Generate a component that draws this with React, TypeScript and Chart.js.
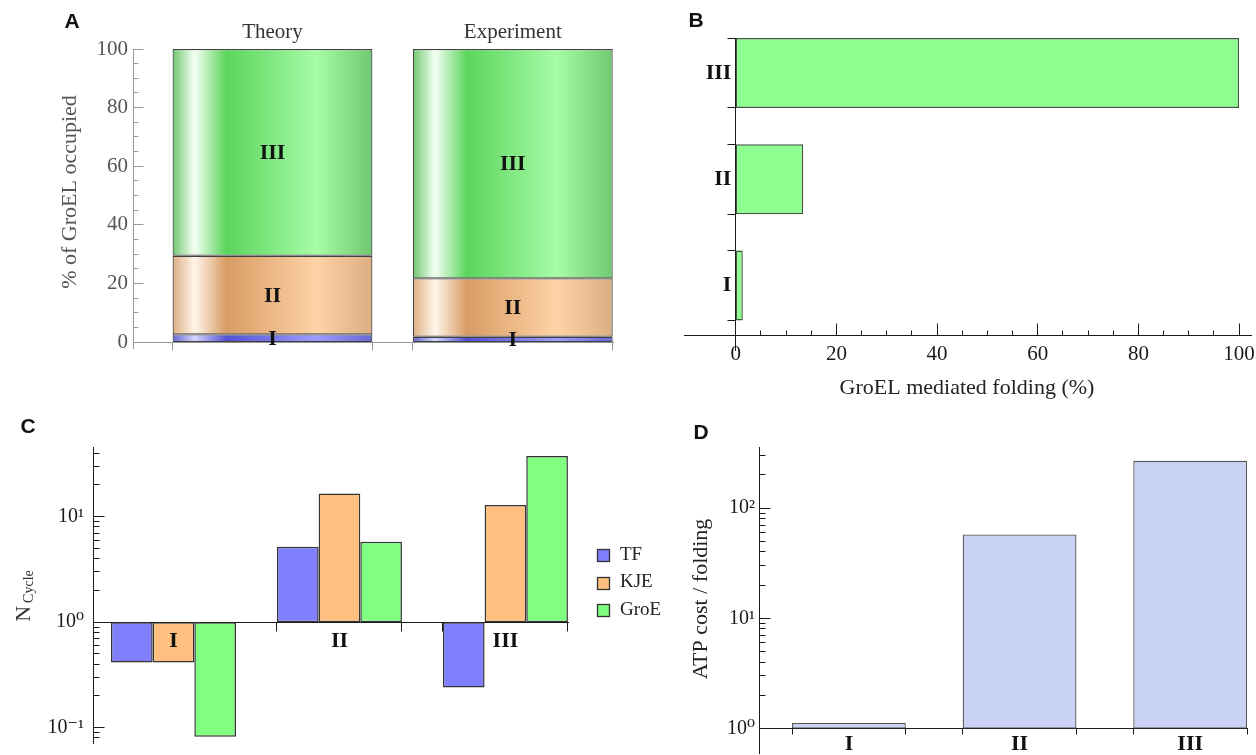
import React, { useEffect, useRef } from 'react';
import { Chart, registerables } from 'chart.js';

Chart.register(...registerables);

const SERIF = '"Liberation Serif", "Times New Roman", "DejaVu Serif", serif';
const SANS = '"Liberation Sans", Arial, "DejaVu Sans", sans-serif';

// ---------------- Panel A data ----------------
const A_GROUPS = ['Theory', 'Experiment'];
const A_CLASSES = ['I', 'II', 'III'];
const A_CLASS_I = [2.7, 1.9];
const A_CLASS_II = [26.8, 19.9];
const A_CLASS_III = [70.5, 78.2];
const A_Y_MAJOR = [0, 20, 40, 60, 80, 100];
const A_Y_MINOR = [5, 10, 15, 25, 30, 35, 45, 50, 55, 65, 70, 75, 85, 90, 95];

// ---------------- Panel B data ----------------
const B_CLASSES = ['I', 'II', 'III'];
const B_FOLDING = [1.4, 13.4, 100];
const B_X_MAJOR = [0, 20, 40, 60, 80, 100];
const B_X_MINOR = [5, 10, 15, 25, 30, 35, 45, 50, 55, 65, 70, 75, 85, 90, 95];

// ---------------- Panel C data ----------------
const C_CLASSES = ['I', 'II', 'III'];
const C_SERIES = ['TF', 'KJE', 'GroE'];
const C_TF = [0.414, 5.2, 0.24];
const C_KJE = [0.414, 16.6, 12.9];
const C_GROE = [0.082, 5.8, 37.7];
const C_Y_MAJOR = [0.1, 1, 10];
const C_Y_LABELS = ['10⁻¹', '10⁰', '10¹'];
const C_Y_MINOR = [0.08, 0.09, 0.2, 0.3, 0.4, 0.5, 0.6, 0.7, 0.8, 0.9, 2, 3, 4, 5, 6, 7, 8, 9, 20, 30, 40];

// ---------------- Panel D data ----------------
const D_CLASSES = ['I', 'II', 'III'];
const D_ATP = [1.125, 57.5, 268];
const D_Y_MAJOR = [1, 10, 100];
const D_Y_LABELS = ['10⁰', '10¹', '10²'];
const D_Y_MINOR = [2, 3, 4, 5, 6, 7, 8, 9, 20, 30, 40, 50, 60, 70, 80, 90, 200, 300];

// ---------------- helpers ----------------
const tickFont = (size: number, weight: string = 'normal') => ({ family: SERIF, size, weight, lineHeight: 1.2 });
const noPad = (width?: number) => (scale: any) => {
  if (width !== undefined) scale.width = width;
  scale.paddingTop = 0;
  scale.paddingBottom = 0;
  scale.paddingLeft = 0;
  scale.paddingRight = 0;
};
const setTicks = (values: number[]) => (scale: any) => {
  scale.ticks = values.map((value) => ({ value }));
};
const positions = (labels: string[]) => labels.map((_, i) => i + 1);
const barEdges = (labels: string[], frac: number) =>
  labels.map((_, i) => [i + 1 - frac / 2, i + 1 + frac / 2]).flat();
const noGrid = { display: false, drawTicks: false, offset: false };

const baseOptions = (padding: any) => ({
  responsive: false,
  animation: false,
  events: [],
  layout: { padding },
});

// Decoration plugin: tick marks, segment labels, free texts, custom legend
const decor = {
  id: 'decor',
  beforeDatasetsDraw(chart: any, _args: any, opts: any) {
    const ctx = chart.ctx;
    (opts.ticks || []).forEach((t: any) => {
      const sc = chart.scales[t.scale];
      const cr = chart.scales[t.cross];
      if (!sc || !cr) return;
      const base = Math.round(cr.getPixelForValue(t.at) - 0.5) + 0.5;
      ctx.save();
      ctx.strokeStyle = t.color;
      ctx.lineWidth = 1;
      ctx.beginPath();
      t.values.forEach((v: number) => {
        const p = Math.round(sc.getPixelForValue(v) - 0.5) + 0.5;
        if (sc.isHorizontal()) {
          ctx.moveTo(p, base);
          ctx.lineTo(p, base + t.len);
        } else {
          ctx.moveTo(base, p);
          ctx.lineTo(base + t.len, p);
        }
      });
      ctx.stroke();
      ctx.restore();
    });
  },
  afterDatasetsDraw(chart: any, _args: any, opts: any) {
    const seg = opts.segmentLabels;
    if (!seg) return;
    const ctx = chart.ctx;
    ctx.save();
    ctx.font = seg.font;
    ctx.fillStyle = seg.color;
    ctx.textAlign = 'center';
    ctx.textBaseline = 'middle';
    chart.data.datasets.forEach((ds: any, i: number) => {
      chart.getDatasetMeta(i).data.forEach((el: any) => {
        ctx.fillText(ds.label, el.x, (el.y + el.base) / 2 + 1);
      });
    });
    ctx.restore();
  },
  afterDraw(chart: any, _args: any, opts: any) {
    const ctx = chart.ctx;
    (opts.texts || []).forEach((t: any) => {
      ctx.save();
      ctx.translate(t.x, t.y);
      if (t.rotate) ctx.rotate((t.rotate * Math.PI) / 180);
      ctx.fillStyle = t.color;
      if (t.parts) {
        let total = 0;
        t.parts.forEach((p: any) => {
          ctx.font = p.font;
          total += ctx.measureText(p.text).width + (p.gap || 0);
        });
        let x = -total / 2;
        ctx.textAlign = 'left';
        ctx.textBaseline = 'alphabetic';
        t.parts.forEach((p: any) => {
          ctx.font = p.font;
          x += p.gap || 0;
          ctx.fillText(p.text, x, p.dy || 0);
          x += ctx.measureText(p.text).width;
        });
      } else {
        ctx.font = t.font;
        ctx.textAlign = t.align || 'center';
        ctx.textBaseline = t.baseline || 'middle';
        ctx.fillText(t.text, 0, 0);
      }
      ctx.restore();
    });
    const lg = opts.legend;
    if (lg) {
      ctx.save();
      chart.data.datasets.forEach((ds: any, i: number) => {
        const y = lg.y0 + i * lg.step;
        const top = Math.round(y - lg.size / 2) + 0.5;
        ctx.fillStyle = ds.backgroundColor;
        ctx.fillRect(lg.x + 0.5, top, lg.size, lg.size);
        ctx.strokeStyle = lg.border;
        ctx.lineWidth = 1.3;
        ctx.strokeRect(lg.x + 0.5, top, lg.size, lg.size);
        ctx.fillStyle = lg.color;
        ctx.font = lg.font;
        ctx.textAlign = 'left';
        ctx.textBaseline = 'middle';
        ctx.fillText(ds.label, lg.textX, y);
      });
      ctx.restore();
    }
  },
};

// ---------------- Panel A ----------------
const A_BAR = 0.8316;
const A_X = { min: 0.4195, max: 2.417 };
const A_Y = { min: -1.95, max: 100 };
const A_SHADES = [
  ['#6767d4', '#d6d6ff', '#5252d4', '#9d9dff'],
  ['#dcae82', '#fff5ea', '#d89c64', '#fed3a6'],
  ['#6fc86f', '#f4fff4', '#5bd55b', '#a8fca8'],
];
const cylinder = (shades: string[]) => (c: any) => {
  const chart = c.chart;
  const xs = chart.scales && chart.scales.x;
  if (!c.raw || !xs) return shades[2];
  const cx = xs.getPixelForValue(c.raw.x);
  const half = Math.abs(xs.getPixelForValue(c.raw.x + A_BAR / 2) - cx);
  if (!isFinite(cx) || !isFinite(half) || half <= 0) return shades[2];
  const g = chart.ctx.createLinearGradient(cx - half, 0, cx + half, 0);
  g.addColorStop(0, shades[0]);
  g.addColorStop(0.11, shades[1]);
  g.addColorStop(0.27, shades[2]);
  g.addColorStop(0.72, shades[3]);
  g.addColorStop(1, shades[0]);
  return g;
};

const configA = () => {
  const series = [A_CLASS_I, A_CLASS_II, A_CLASS_III];
  return {
    type: 'bar',
    data: {
      datasets: A_CLASSES.map((label, k) => ({
        label,
        data: A_GROUPS.map((_, i) => ({ x: i + 1, y: series[k][i] })),
        backgroundColor: cylinder(A_SHADES[k]),
        borderColor: '#404040',
        borderWidth: 1.2,
        borderSkipped: false,
        barPercentage: 1,
        categoryPercentage: A_BAR,
      })),
    },
    options: {
      ...baseOptions({ left: 0, top: 49, right: 47, bottom: 52 }),
      plugins: {
        legend: { display: false },
        tooltip: { enabled: false },
        decor: {
          ticks: [
            { scale: 'y', cross: 'x', at: A_X.min, values: A_Y_MAJOR, len: 10, color: '#9a9a9a' },
            { scale: 'y', cross: 'x', at: A_X.min, values: A_Y_MINOR, len: 5, color: '#9a9a9a' },
            { scale: 'xEdge', cross: 'y', at: 0, values: barEdges(A_GROUPS, A_BAR), len: 8, color: '#9a9a9a' },
          ],
          segmentLabels: { font: `bold 22px ${SERIF}`, color: '#111' },
          texts: [
            { text: 'A', x: 72, y: 22, font: `bold 21px ${SANS}`, color: '#111' },
            { text: '% of GroEL occupied', x: 70, y: 192, rotate: -90, font: `22px ${SERIF}`, color: '#555' },
          ],
        },
      },
      scales: {
        x: {
          type: 'linear', axis: 'x', ...A_X, offset: false, stacked: true, position: { y: A_Y.max },
          grid: noGrid, border: { display: false },
          afterBuildTicks: setTicks(positions(A_GROUPS)),
          ticks: {
            autoSkip: false, maxRotation: 0, minRotation: 0, padding: -29, color: '#333',
            font: tickFont(21), callback: (v: number) => A_GROUPS[Math.round(v) - 1] ?? '',
          },
          afterFit: noPad(),
        },
        xEdge: {
          type: 'linear', axis: 'x', ...A_X, offset: false, position: { y: 0 },
          grid: noGrid, border: { display: true, color: '#9a9a9a', width: 1 },
          ticks: { display: false },
          afterFit: noPad(),
        },
        y: {
          type: 'linear', axis: 'y', ...A_Y, offset: false, stacked: true, position: 'left',
          grid: noGrid, border: { display: true, color: '#9a9a9a', width: 1 },
          afterBuildTicks: setTicks(A_Y_MAJOR),
          ticks: { autoSkip: false, padding: 5, color: '#555', font: tickFont(21) },
          afterFit: noPad(133),
        },
      },
    },
    plugins: [decor],
  } as any;
};

// ---------------- Panel B ----------------
const B_BAR = 0.658;
const B_X = { min: -10.28, max: 102.37 };
const B_Y = { min: 0.393, max: 3.329 };
const B_Y_CROSS = 0.526;

const configB = () => ({
  type: 'bar',
  data: {
    datasets: [
      {
        label: 'GroEL mediated folding (%)',
        data: B_CLASSES.map((_, i) => ({ x: B_FOLDING[i], y: i + 1 })),
        backgroundColor: '#8fff8f',
        borderColor: '#3f573f',
        borderWidth: 1.4,
        borderSkipped: false,
        barPercentage: 1,
        categoryPercentage: B_BAR,
      },
    ],
  },
  options: {
    ...baseOptions({ left: 24, top: 38, right: 5, bottom: 50 }),
    indexAxis: 'y',
    plugins: {
      legend: { display: false },
      tooltip: { enabled: false },
      decor: {
        ticks: [
          { scale: 'y', cross: 'x', at: 0, values: barEdges(B_CLASSES, B_BAR), len: -8, color: '#1a1a1a' },
          { scale: 'x', cross: 'y', at: B_Y_CROSS, values: B_X_MAJOR, len: -12, color: '#1a1a1a' },
          { scale: 'x', cross: 'y', at: B_Y_CROSS, values: B_X_MINOR, len: -5, color: '#1a1a1a' },
        ],
        texts: [
          { text: 'B', x: 36, y: 21, font: `bold 21px ${SANS}`, color: '#111' },
          { text: 'GroEL mediated folding (%)', x: 307, y: 388, font: `22px ${SERIF}`, color: '#222' },
        ],
      },
    },
    scales: {
      x: {
        type: 'linear', axis: 'x', ...B_X, offset: false, position: { y: B_Y_CROSS },
        grid: noGrid, border: { display: true, color: '#1a1a1a', width: 1 },
        afterBuildTicks: setTicks(B_X_MAJOR),
        ticks: { autoSkip: false, maxRotation: 0, minRotation: 0, padding: 6, color: '#1a1a1a', font: tickFont(21) },
        afterFit: noPad(),
      },
      y: {
        type: 'linear', axis: 'y', ...B_Y, offset: false, position: { x: 0 },
        grid: noGrid, border: { display: true, color: '#1a1a1a', width: 1 },
        afterBuildTicks: setTicks(positions(B_CLASSES)),
        ticks: {
          autoSkip: false, padding: 3, color: '#111', font: tickFont(22, 'bold'),
          // thin space keeps the label clear of the axis line
          callback: (v: number) => (B_CLASSES[Math.round(v) - 1] ?? '') + '\u2009',
        },
        afterFit: noPad(),
      },
    },
  },
  plugins: [decor],
} as any);

// ---------------- Panel C ----------------
const C_GROUP = 0.753;
const C_X = { min: 0.515, max: 3.377 };
const C_Y = { min: 0.0716, max: 45.8 };
const C_COLORS = ['#8080ff', '#ffbf80', '#80ff80'];

const configC = () => {
  const series = [C_TF, C_KJE, C_GROE];
  return {
    type: 'bar',
    data: {
      datasets: C_SERIES.map((label, k) => ({
        label,
        data: C_CLASSES.map((_, i) => ({ x: i + 1, y: [1, series[k][i]] })),
        backgroundColor: C_COLORS[k],
        borderColor: '#333333',
        borderWidth: 1.5,
        borderSkipped: false,
        barPercentage: 1,
        categoryPercentage: C_GROUP,
      })),
    },
    options: {
      ...baseOptions({ left: 0, top: 47, right: 92, bottom: 12 }),
      plugins: {
        legend: { display: false },
        tooltip: { enabled: false },
        decor: {
          ticks: [
            { scale: 'x', cross: 'y', at: 1, values: barEdges(C_CLASSES, C_GROUP), len: 9, color: '#1a1a1a' },
            { scale: 'y', cross: 'x', at: C_X.min, values: C_Y_MAJOR, len: 11, color: '#1a1a1a' },
            { scale: 'y', cross: 'x', at: C_X.min, values: C_Y_MINOR, len: 6, color: '#1a1a1a' },
          ],
          texts: [
            { text: 'C', x: 28, y: 27, font: `bold 21px ${SANS}`, color: '#111' },
            {
              parts: [
                { text: 'N', font: `22px ${SERIF}` },
                { text: 'Cycle', font: `14px ${SERIF}`, dy: 3, gap: 3 },
              ],
              x: 30, y: 196, rotate: -90, color: '#333',
            },
          ],
          legend: { x: 597, y0: 155, step: 27.5, size: 12, textX: 620, font: `19px ${SERIF}`, color: '#222', border: '#333' },
        },
      },
      scales: {
        x: {
          type: 'linear', axis: 'x', ...C_X, offset: false, position: { y: 1 },
          grid: noGrid, border: { display: true, color: '#1a1a1a', width: 1 },
          afterBuildTicks: setTicks(positions(C_CLASSES)),
          ticks: {
            z: 1, autoSkip: false, maxRotation: 0, minRotation: 0, padding: 6, color: '#111',
            font: tickFont(22, 'bold'), callback: (v: number) => C_CLASSES[Math.round(v) - 1] ?? '',
          },
          afterFit: noPad(),
        },
        y: {
          type: 'logarithmic', axis: 'y', ...C_Y, offset: false, position: 'left',
          grid: noGrid, border: { display: true, color: '#1a1a1a', width: 1 },
          afterBuildTicks: setTicks(C_Y_MAJOR),
          ticks: {
            autoSkip: false, padding: 9, color: '#1a1a1a', font: tickFont(20),
            callback: (_v: number, i: number) => C_Y_LABELS[i] ?? '',
          },
          afterFit: noPad(93),
        },
      },
    },
    plugins: [decor],
  } as any;
};

// ---------------- Panel D ----------------
const D_BAR = 0.667;
const D_X = { min: 0.473, max: 3.333 };
const D_Y = { min: 0.63, max: 358 };

const configD = () => ({
  type: 'bar',
  data: {
    datasets: [
      {
        label: 'ATP cost / folding',
        data: D_CLASSES.map((_, i) => ({ x: i + 1, y: [1, D_ATP[i]] })),
        backgroundColor: '#c9d1f4',
        borderColor: '#555555',
        borderWidth: 1.3,
        borderSkipped: false,
        barPercentage: 1,
        categoryPercentage: D_BAR,
      },
    ],
  },
  options: {
    ...baseOptions({ left: 0, top: 47, right: 9, bottom: 2 }),
    plugins: {
      legend: { display: false },
      tooltip: { enabled: false },
      decor: {
        ticks: [
          { scale: 'x', cross: 'y', at: 1, values: barEdges(D_CLASSES, D_BAR), len: 6, color: '#1a1a1a' },
          { scale: 'y', cross: 'x', at: D_X.min, values: D_Y_MAJOR, len: 11, color: '#1a1a1a' },
          { scale: 'y', cross: 'x', at: D_X.min, values: D_Y_MINOR, len: 6, color: '#1a1a1a' },
        ],
        texts: [
          { text: 'D', x: 41, y: 33, font: `bold 21px ${SANS}`, color: '#111' },
          { text: 'ATP cost / folding', x: 41, y: 199, rotate: -90, font: `22px ${SERIF}`, color: '#222' },
        ],
      },
    },
    scales: {
      x: {
        type: 'linear', axis: 'x', ...D_X, offset: false, position: { y: 1 },
        grid: noGrid, border: { display: true, color: '#1a1a1a', width: 1 },
        afterBuildTicks: setTicks(positions(D_CLASSES)),
        ticks: {
          z: 1, autoSkip: false, maxRotation: 0, minRotation: 0, padding: 3, color: '#111',
          font: tickFont(22, 'bold'), callback: (v: number) => D_CLASSES[Math.round(v) - 1] ?? '',
        },
        afterFit: noPad(),
      },
      y: {
        type: 'logarithmic', axis: 'y', ...D_Y, offset: false, position: 'left',
        grid: noGrid, border: { display: true, color: '#1a1a1a', width: 1 },
        afterBuildTicks: setTicks(D_Y_MAJOR),
        ticks: {
          autoSkip: false, padding: 4, color: '#1a1a1a', font: tickFont(20),
          callback: (_v: number, i: number) => D_Y_LABELS[i] ?? '',
        },
        afterFit: noPad(99),
      },
    },
  },
  plugins: [decor],
} as any);

// ---------------- components ----------------
function ChartCanvas(props: { left: number; top: number; width: number; height: number; config: () => any }) {
  const ref = useRef<HTMLCanvasElement>(null);
  useEffect(() => {
    if (!ref.current) return;
    const chart = new Chart(ref.current, props.config());
    return () => chart.destroy();
  }, []);
  const { left, top, width, height } = props;
  return (
    <canvas
      ref={ref}
      width={width}
      height={height}
      style={{ position: 'absolute', left, top, width, height, display: 'block' }}
    />
  );
}

export default function App() {
  return (
    <div
      style={{
        position: 'fixed', left: 0, top: 0, width: 1256, height: 755,
        background: '#ffffff', overflow: 'hidden',
      }}
    >
      <ChartCanvas left={0} top={0} width={660} height={400} config={configA} />
      <ChartCanvas left={660} top={0} width={596} height={400} config={configB} />
      <ChartCanvas left={0} top={400} width={660} height={355} config={configC} />
      <ChartCanvas left={660} top={400} width={596} height={355} config={configD} />
    </div>
  );
}
